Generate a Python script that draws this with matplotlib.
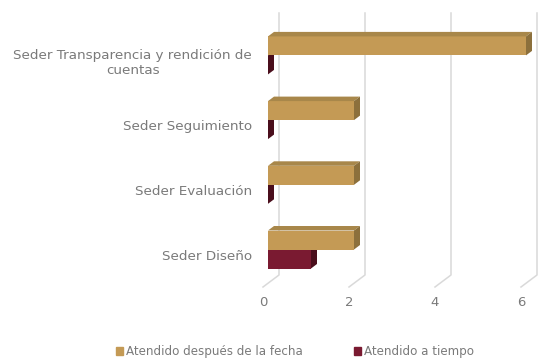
import matplotlib
matplotlib.use('Agg')

import matplotlib.pyplot as plt
from matplotlib.patches import Polygon, Patch
import numpy as np

categorias = ['Seder Diseño', 'Seder Evaluación', 'Seder Seguimiento',
              'Seder Transparencia y rendición de\ncuentas']
despues = [2, 2, 2, 6]
a_tiempo = [1, 0, 0, 0]
series = ['Atendido después de la fecha', 'Atendido a tiempo']
xticks = [0, 2, 4, 6]

gold = ['#C49A55', '#A8874A', '#8C703C']   # frente, arriba, lado
red = ['#7A1A31', '#5E1326', '#4A0E1C']
gris = '#7A7A7A'

W, H = 538, 360
px_x = 43.0     # pixeles por unidad
px_y = 64.7     # pixeles por categoria
fig = plt.figure(figsize=(W / 100, H / 100), dpi=100)
ylo, yhi = -0.9, 249.5 / px_y
ax_h = (yhi - ylo) * px_y
ax = fig.add_axes([268 / W, 1 - ax_h / H, (W - 268) / W, ax_h / H])
ax.set_xlim(0, (W - 268) / px_x)
ax.set_ylim(ylo, yhi)

bh = 19 / px_y           # alto de barra
dx, dy = 6 / px_x, 4.5 / px_y   # profundidad 3D
y = np.arange(len(categorias))

# rejilla (pared del fondo + piso inclinado)
gx, gtop, gbot = 11 / px_x, (249.5 - 13) / px_y, (249.5 - 275) / px_y
fx, fbot = -5 / px_x, (249.5 - 287) / px_y
for t in xticks:
    ax.plot([t + gx, t + gx, t + fx], [gtop, gbot, fbot], color='#D9D9D9',
            lw=1.1, clip_on=False, zorder=1)
    ax.text(t + fx, (249.5 - 303) / px_y, str(t), ha='center', va='center',
            color=gris, fontsize=9.5)


def barras3d(yc, vals, cols, z):
    ax.barh(yc, vals, height=bh, color=cols[0], zorder=z)
    for yy, v in zip(yc, vals):
        y0, y1 = yy - bh / 2, yy + bh / 2
        top = Polygon([(0, y1), (v, y1), (v + dx, y1 + dy), (dx, y1 + dy)],
                      closed=True, color=cols[1], zorder=z, lw=0)
        side = Polygon([(v, y0), (v, y1), (v + dx, y1 + dy), (v + dx, y0 + dy)],
                       closed=True, color=cols[2], zorder=z, lw=0)
        ax.add_patch(top)
        ax.add_patch(side)


barras3d(y - bh / 2, a_tiempo, red, 2)
barras3d(y + bh / 2, despues, gold, 3)

ax.set_yticks(y - 5 / px_y)
ax.set_yticklabels(categorias, color=gris, fontsize=9.7, multialignment='center')
ax.tick_params(axis='y', length=0, pad=11.5)
ax.set_xticks([])
for s in ax.spines.values():
    s.set_visible(False)

handles = [Patch(color=gold[0]), Patch(color=red[0])]
fig.legend(handles, series, loc='center', bbox_to_anchor=(295 / W, 1 - 352 / H),
           ncol=2, frameon=False, fontsize=8.6, labelcolor=gris,
           handlelength=0.6, handleheight=0.6, handletextpad=0.25, columnspacing=4.2)

fig.savefig('out.png', dpi=100)
